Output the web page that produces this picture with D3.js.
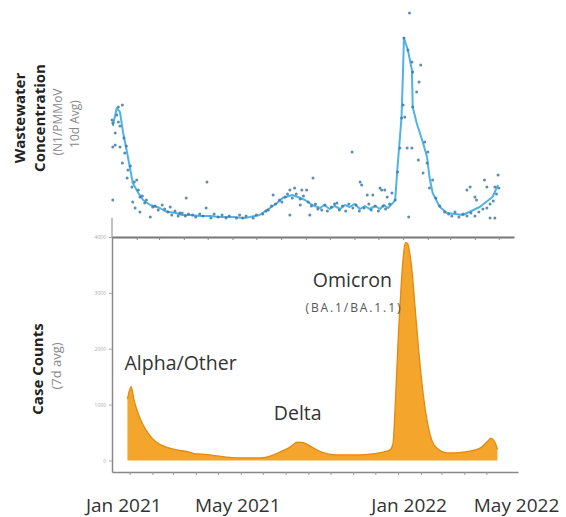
<!DOCTYPE html>
<html>
<head>
<meta charset="utf-8">
<script src="https://cdn.jsdelivr.net/npm/d3@7"></script>
<style>
body { margin: 0; background: #fff; }
text { font-family: "Open Sans", sans-serif; }
</style>
</head>
<body>
<div id="chart"></div>
<script>
// wastewater: [days since 2021-01-01, concentration (arbitrary units)]
var wwOrigin = "2021-01-01";
var wwLine = [[1,48],[6,57],[10,55],[14,44.5],[19,34.5],[23,26],[26,19.5],[33,14.5],[39,11],[48,8.5],
    [60,7],[66,5.5],[72,5],[80,4.5],[88,3.5],[98,3.5],[110,3],[123,3],[135,2.5],[152,2.5],[165,2],[173,2.5],
    [185,3.5],[198,7],[207,9.5],[214,12],[226,13.5],[233,12.5],[242,11],[251,8.5],
    [261,7],[266,8.5],[273,6.5],[279,8],[286,6.5],[292,8.5],[298,7.5],[304,9],[311,6.5],[317,8],[323,6.5],
    [330,8],[336,6.5],[341,8.5],[346,7],[352,9.5],[355,11],[358,27.5],[363,52.5],[365,77.5],[366,92],
    [371,86],[376,76],[377,57.5],[382,49.5],[390,39.5],[395,32.5],[398,22.5],[402,14.5],[411,7.5],[420,4.5],
    [440,3.5],[461,7.5],[477,12.5],[484,18.5]];
var wwPoints = [[0,51],[1,49.5],[4,44.5],[6,53.5],[8,57.5],[13,58.5],[4,38.5],[1,37.5],[10,37.5],[13,29.5],
    [16,34.5],[20,26],[19,22],[25,17.5],[31,21],[33,16],[35,12.5],[26,10],[29,7],[35,5],[41,9.5],[48,2.5],
    [51,7.5],[63,8.5],[73,7.5],[85,4.5],[93,12],[101,3.5],[118,7],[119,20],[1,11],
    [8,50],[10,48],[15,42],[18,38],[23,28],[28,20],[38,13],[43,11],[54,8],[58,6],[66,6.5],
    [70,5],[75,3.5],[79,5.5],[83,3],[88,4.5],[92,3],[96,4],[105,2.5],[110,4],[114,3],[124,2],[128,4],
    [133,2.5],[138,3.5],[143,2],[147,3],[156,2],[160,3.5],[164,2],[168,3],[177,2],[181,3.5],
    [202,13.5],[223,3.5],[223,16],[229,17],[238,16],[244,16],[252,22],[248,3.5],[236,8.5],
    [189,4],[193,5.5],[196,6],[200,8],[205,9],[210,11],[213,10],[217,12.5],[220,14],[226,12],[231,14],
    [236,11.5],[240,13],[246,10],[250,8],[255,9],[258,6.5],
    [301,35],[311,20],[313,18.5],[320,13.5],[327,13.5],[338,16],[345,12.5],[351,14.5],[282,9.5],
    [263,6],[267,8.5],[270,5.5],[275,7.5],[279,9],[285,6],[289,8],[293,5.5],[297,9],[302,7],[306,8.5],
    [310,5.5],[316,7],[322,9],[325,6],[330,8],[334,5.5],[340,8],[343,6.5],[348,9],
    [336,17],[342,16],[355,11],[358,25],[361,37],[363,52],[365,58.5],[366,92],[367,52.5],[370,37],
    [371,86],[373,104.5],[372,2.5],[376,80],[376,37],[377,75],[377,57.5],[382,65],[385,70],[387,78.5],
    [384,31],[390,24.5],[395,29.5],[392,40],[398,17],[402,21],[396,35],[406,12],[411,8],[417,5],
    [422,4],[426,3],[430,5],[435,2.5],[440,4],[445,3],[450,4.5],[455,3],[460,5],[465,6.5],[470,7],
    [474,9],[478,10.5],[482,14],[485,17],
    [445,16],[449,17.5],[457,11],[455,12.5],[467,21],[470,17.5],[480,17.5],[484,23.5],[474,2],[480,2]];

// cases, 7 day average
var caseDates = ["2020-12-29","2021-01-03","2021-01-07","2021-01-11","2021-01-18","2021-01-28","2021-02-06",
    "2021-02-20","2021-03-06","2021-03-23","2021-04-01","2021-04-09","2021-04-20","2021-05-13","2021-06-04",
    "2021-06-27","2021-07-11","2021-07-24","2021-08-07","2021-08-17","2021-08-25","2021-09-07","2021-09-21",
    "2021-10-10","2021-11-06","2021-11-27","2021-12-12","2021-12-21","2021-12-25","2021-12-28","2022-01-01",
    "2022-01-05","2022-01-08","2022-01-11","2022-01-14","2022-01-17","2022-01-20","2022-01-24","2022-01-29",
    "2022-02-04","2022-02-11","2022-02-21","2022-03-09","2022-03-31","2022-04-23","2022-05-03","2022-05-07",
    "2022-05-14","2022-05-16"];
var caseValues = [1100,1320,1080,900,670,455,330,240,190,150,120,115,100,60,45,
    45,80,150,240,330,320,230,140,100,100,120,150,190,300,960,2150,
    3100,3650,3900,3880,3700,3380,2750,1970,1200,600,240,135,150,225,350,400,
    280,200];
var caseTicks = [0, 1000, 2000, 3000, 4000];

var dateLabels = ["Jan 2021", "May 2021", "Jan 2022", "May 2022"];
var dateLabelAnchors = ["2020-12-24", "2021-05-28", "2022-01-16", "2022-06-11"];

var annoText = ["Alpha/Other", "Delta", "Omicron", "(BA.1/BA.1.1)"];
var annoDates = ["2020-12-25", "2021-07-16", "2021-09-07", "2021-08-28"];
var annoValues = [1619, 724, 3104, 2657];

(function() {
    var parse = d3.timeParse("%Y-%m-%d");
    var origin = parse(wwOrigin);
    var width = 566, height = 517;

    var svg = d3.select("#chart").append("svg")
        .attr("width", width)
        .attr("height", height);

    // ---- top panel: wastewater
    var topX = d3.scaleTime()
        .domain([origin, parse("2022-05-20")])
        .range([112, 514]);
    var topY = d3.scaleLinear()
        .domain([0, 110])
        .range([222, 2]);

    var months = d3.timeMonth.range(parse("2021-01-01"), parse("2022-05-02"));

    svg.append("line")
        .attr("x1", topX.range()[0]).attr("x2", topX.range()[0])
        .attr("y1", 218).attr("y2", 237)
        .attr("stroke", "#999").attr("stroke-width", 1.2);

    svg.append("g")
        .attr("transform", "translate(0,237)")
        .call(d3.axisBottom(topX).tickValues(months).tickSize(3).tickSizeOuter(0).tickFormat(""))
        .call(g => g.select(".domain").attr("stroke", "#777").attr("stroke-width", 2))
        .call(g => g.selectAll(".tick line").attr("stroke", "#888"));

    var wwLinePath = d3.line()
        .x(d => topX(d3.timeDay.offset(origin, d[0])))
        .y(d => topY(d[1]));

    svg.append("path")
        .datum(wwLine)
        .attr("fill", "none")
        .attr("stroke", "#4fb2e8")
        .attr("stroke-width", 2)
        .attr("stroke-linejoin", "round")
        .attr("d", wwLinePath);

    svg.selectAll(".ww")
        .data(wwPoints)
        .enter()
        .append("circle")
        .attr("class", "ww")
        .attr("cx", d => topX(d3.timeDay.offset(origin, d[0])))
        .attr("cy", d => topY(d[1]))
        .attr("r", 1.5)
        .attr("fill", "#3f7aa6")
        .attr("opacity", 0.85);

    // ---- bottom panel: cases
    var botX = d3.scaleTime()
        .domain([parse("2020-12-08"), parse("2022-06-13")])
        .range([112, 518]);
    var botY = d3.scaleLinear()
        .domain([-206, 4000])
        .range([472, 237]);

    var cases = caseDates.map((d, i) => ({date: parse(d), value: caseValues[i]}));

    var area = d3.area()
        .x(d => botX(d.date))
        .y0(botY(0))
        .y1(d => botY(d.value))
        .curve(d3.curveMonotoneX);

    svg.append("path")
        .datum(cases)
        .attr("fill", "#f4a52c")
        .attr("d", area);

    svg.append("path")
        .datum(cases)
        .attr("fill", "none")
        .attr("stroke", "#e28a12")
        .attr("stroke-width", 1.3)
        .attr("d", area.lineY1());

    svg.append("g")
        .attr("transform", "translate(0,472)")
        .call(d3.axisBottom(botX).tickValues(months).tickSize(3).tickSizeOuter(0).tickFormat(""))
        .call(g => g.select(".domain").attr("stroke", "#888").attr("stroke-width", 1.5))
        .call(g => g.selectAll(".tick line").attr("stroke", "#999"));

    svg.append("g")
        .attr("transform", "translate(112,0)")
        .call(d3.axisLeft(botY).tickValues(caseTicks).tickSize(3).tickSizeOuter(0).tickFormat(d3.format("d")))
        .call(g => g.select(".domain").attr("stroke", "#888").attr("stroke-width", 1.5))
        .call(g => g.selectAll(".tick line").attr("stroke", "#aaa"))
        .call(g => g.selectAll(".tick text").attr("fill", "#aaa").style("font-size", "5px"));

    // date labels under the chart
    svg.selectAll(".date-label")
        .data(dateLabels)
        .enter()
        .append("text")
        .attr("class", "date-label")
        .attr("x", (d, i) => botX(parse(dateLabelAnchors[i])))
        .attr("y", 512)
        .attr("text-anchor", "middle")
        .attr("fill", "#333")
        .style("font-size", "19px")
        .text(d => d);

    // variant annotations
    svg.selectAll(".anno")
        .data(annoText)
        .enter()
        .append("text")
        .attr("class", "anno")
        .attr("x", (d, i) => botX(parse(annoDates[i])))
        .attr("y", (d, i) => botY(annoValues[i]))
        .attr("fill", (d, i) => i == 3 ? "#555" : "#333")
        .style("font-size", (d, i) => i == 3 ? "12px" : "19.5px")
        .style("letter-spacing", (d, i) => i == 3 ? "1.9px" : "0px")
        .text(d => d);

    // axis titles
    function vtitle(x, y, txt, size, weight, color) {
        svg.append("text")
            .attr("transform", "translate(" + x + "," + y + ") rotate(-90)")
            .attr("text-anchor", "middle")
            .attr("fill", color)
            .style("font-size", size)
            .style("font-weight", weight)
            .text(txt);
    }
    vtitle(25, 118, "Wastewater", "15px", "bold", "#222");
    vtitle(45, 118, "Concentration", "15px", "bold", "#222");
    vtitle(62, 122, "(N1/PMMoV", "12px", "normal", "#888");
    vtitle(79, 124, "10d Avg)", "12px", "normal", "#888");
    vtitle(43, 369, "Case Counts", "15px", "bold", "#222");
    vtitle(61, 366, "(7d avg)", "13px", "normal", "#888");
})();
</script>
</body>
</html>
